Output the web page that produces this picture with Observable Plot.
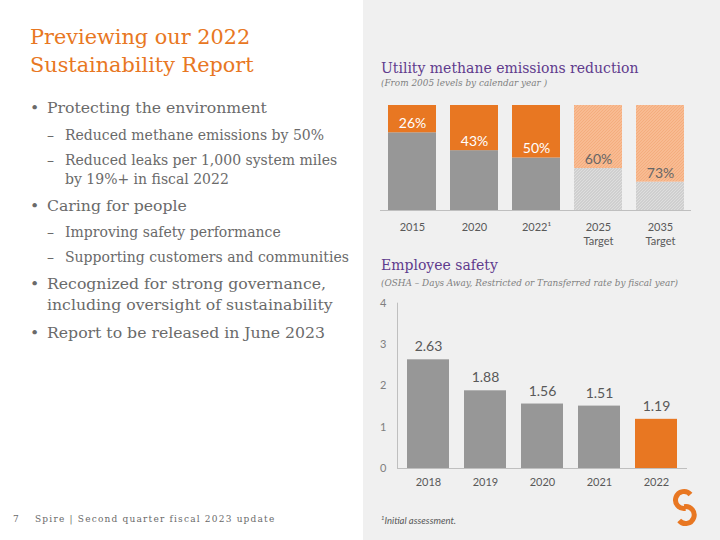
<!DOCTYPE html>
<html>
<head>
<meta charset="utf-8">
<script src="https://cdn.jsdelivr.net/npm/d3@7"></script>
<script src="https://cdn.jsdelivr.net/npm/@observablehq/plot@0.6"></script>
<style>
  html, body { margin: 0; padding: 0; }
  #slide { position: relative; width: 720px; height: 540px; overflow: hidden; background: #ffffff; }
  #panel { position: absolute; left: 363px; top: 0; width: 357px; height: 540px; background: #f0f0f0; }
  .t { position: absolute; white-space: nowrap; font-family: "DejaVu Serif", serif; color: #6a6a6a; }
  .title { color: #e87722; font-size: 20.8px; line-height: 28px; }
  .b1 { font-size: 15.7px; line-height: 20px; }
  .b2 { font-size: 14px; line-height: 20px; }
  .ctitle { color: #5f3b8d; font-size: 14px; line-height: 20px; }
  .csub { color: #7f7f7f; font-size: 8.9px; font-style: italic; line-height: 12px; }
  .foot { color: #6a6a6a; font-size: 9px; letter-spacing: 1.2px; line-height: 12px; }
  .fn { font-family: Lato, sans-serif; font-style: italic; color: #595959; font-size: 9.5px; line-height: 12px; }
  .chart { position: absolute; left: 363px; }
</style>
</head>
<body>
<svg width="0" height="0" style="position:absolute">
  <defs>
    <pattern id="hatchOrange" width="3" height="3" patternUnits="userSpaceOnUse">
      <rect width="3" height="3" fill="#f8bb92"/>
      <path d="M0,3 L3,0 M-1,1 L1,-1 M2,4 L4,2" stroke="#f3aa79" stroke-width="0.8"/>
    </pattern>
    <pattern id="hatchGray" width="3" height="3" patternUnits="userSpaceOnUse">
      <rect width="3" height="3" fill="#cfcfcf"/>
      <path d="M0,3 L3,0 M-1,1 L1,-1 M2,4 L4,2" stroke="#e2e2e2" stroke-width="0.8"/>
    </pattern>
  </defs>
</svg>
<div id="slide">
  <div id="panel"></div>

  <div class="t title" style="left:30px; top:23px;">Previewing our 2022</div>
  <div class="t title" style="left:30px; top:51px;">Sustainability Report</div>

  <div class="t b1" style="left:30px; top:98px;">•</div>
  <div class="t b1" style="left:47px; top:98px;">Protecting the environment</div>
  <div class="t b2" style="left:47px; top:125px;">–</div>
  <div class="t b2" style="left:65px; top:125px;">Reduced methane emissions by 50%</div>
  <div class="t b2" style="left:47px; top:150px;">–</div>
  <div class="t b2" style="left:65px; top:150px;">Reduced leaks per 1,000 system miles</div>
  <div class="t b2" style="left:65px; top:169px;">by 19%+ in fiscal 2022</div>
  <div class="t b1" style="left:30px; top:196px;">•</div>
  <div class="t b1" style="left:47px; top:196px;">Caring for people</div>
  <div class="t b2" style="left:47px; top:222px;">–</div>
  <div class="t b2" style="left:65px; top:222px;">Improving safety performance</div>
  <div class="t b2" style="left:47px; top:247px;">–</div>
  <div class="t b2" style="left:65px; top:247px;">Supporting customers and communities</div>
  <div class="t b1" style="left:30px; top:274px;">•</div>
  <div class="t b1" style="left:47px; top:274px;">Recognized for strong governance,</div>
  <div class="t b1" style="left:47px; top:295px;">including oversight of sustainability</div>
  <div class="t b1" style="left:30px; top:323px;">•</div>
  <div class="t b1" style="left:47px; top:323px;">Report to be released in June 2023</div>

  <div class="t foot" style="left:13px; top:513px;">7</div>
  <div class="t foot" style="left:35px; top:513px;">Spire | Second quarter fiscal 2023 update</div>

  <div class="t ctitle" style="left:381px; top:58px;">Utility methane emissions reduction</div>
  <div class="t csub" style="left:381px; top:77px;">(From 2005 levels by calendar year )</div>
  <div class="t ctitle" style="left:381px; top:255px;">Employee safety</div>
  <div class="t csub" style="left:381px; top:277px;">(OSHA – Days Away, Restricted or Transferred rate by fiscal year)</div>

  <div class="t fn" style="left:381px; top:512px;"><sup style="font-size:6px">1</sup>Initial assessment.</div>

  <div id="chart1" class="chart" style="top:95px;"></div>
  <div id="chart2" class="chart" style="top:290px;"></div>

  <svg style="position:absolute; left:665px; top:485px;" width="40" height="45">
    <path d="M25.5,9.5 A8.5,8.5 0 1 0 20.5,23.4" fill="none" stroke="#e87722" stroke-width="5"/>
    <path d="M19.2,21.6 A8.5,8.5 0 1 1 14.2,35.5" fill="none" stroke="#e87722" stroke-width="5"/>
  </svg>
</div>

<script>
// ---- Data: Utility methane emissions reduction ----
const methaneYears = ["2015", "2020", "2022", "2025", "2035"];
const methaneTickLabels = ["2015", "2020", "2022¹", "2025\nTarget", "2035\nTarget"];
const methaneReduction = [26, 43, 50, 60, 73];
const methaneIsTarget = [false, false, false, true, true];

// ---- Data: Employee safety ----
const safetyYears = ["2018", "2019", "2020", "2021", "2022"];
const safetyRates = [2.63, 1.88, 1.56, 1.51, 1.19];
const safetyTicks = [0, 1, 2, 3, 4];

const ORANGE = "#e87722";
const GRAY = "#979797";

const methaneRows = methaneYears.map((y, i) => ({
  year: y, r: methaneReduction[i], remain: 100 - methaneReduction[i], target: methaneIsTarget[i]
}));
const actual = methaneRows.filter(d => !d.target);
const targets = methaneRows.filter(d => d.target);

const chart1 = Plot.plot({
  width: 357, height: 160,
  marginLeft: 17, marginRight: 29, marginTop: 10, marginBottom: 45,
  style: { background: "transparent", fontFamily: "Lato, sans-serif", color: "#595959" },
  x: { domain: methaneYears, paddingInner: 0.23, paddingOuter: 0.12 },
  y: { domain: [0, 100], axis: null },
  marks: [
    Plot.barY(actual, { x: "year", y1: () => 0, y2: "remain", fill: GRAY }),
    Plot.barY(actual, { x: "year", y1: "remain", y2: () => 100, fill: ORANGE }),
    Plot.barY(targets, { x: "year", y1: () => 0, y2: "remain", fill: "url(#hatchGray)" }),
    Plot.barY(targets, { x: "year", y1: "remain", y2: () => 100, fill: "url(#hatchOrange)" }),
    Plot.ruleY([0], { stroke: "#bfbfbf", strokeWidth: 1 }),
    Plot.text(actual, { x: "year", y: "remain", text: d => d.r + "%", dy: -9, fill: "#ffffff", fontSize: 14 }),
    Plot.text(targets, { x: "year", y: "remain", text: d => d.r + "%", dy: -9, fill: "#666666", fontSize: 14 }),
    Plot.axisX({
      tickSize: 0, tickPadding: 10, label: null, fontSize: 11, fill: "#595959", lineHeight: 1.3,
      tickFormat: d => methaneTickLabels[methaneYears.indexOf(d)]
    })
  ]
});
document.getElementById("chart1").appendChild(chart1);

const safetyRows = safetyYears.map((y, i) => ({
  year: y, rate: safetyRates[i], color: i === safetyYears.length - 1 ? ORANGE : GRAY
}));

const chart2 = Plot.plot({
  width: 357, height: 210,
  marginLeft: 34, marginRight: 33, marginTop: 12.7, marginBottom: 32,
  style: { background: "transparent", fontFamily: "Lato, sans-serif", color: "#595959" },
  x: { domain: safetyYears, paddingInner: 0.255, paddingOuter: 0.14 },
  y: { domain: [0, 4] },
  color: { type: "identity" },
  marks: [
    Plot.axisY({ ticks: safetyTicks, tickSize: 0, tickPadding: 11, label: null, fontSize: 11, fill: "#7f7f7f", tickFormat: d => String(d) }),
    Plot.frame({ anchor: "left", stroke: "#bfbfbf" }),
    Plot.barY(safetyRows, { x: "year", y: "rate", fill: "color" }),
    Plot.ruleY([0], { stroke: "#bfbfbf", strokeWidth: 1 }),
    Plot.text(safetyRows, { x: "year", y: "rate", text: d => d.rate.toFixed(2), dy: -13, fill: "#595959", fontSize: 14 }),
    Plot.axisX({ tickSize: 0, tickPadding: 10, label: null, fontSize: 11, fill: "#595959" })
  ]
});
document.getElementById("chart2").appendChild(chart2);
</script>
</body>
</html>
